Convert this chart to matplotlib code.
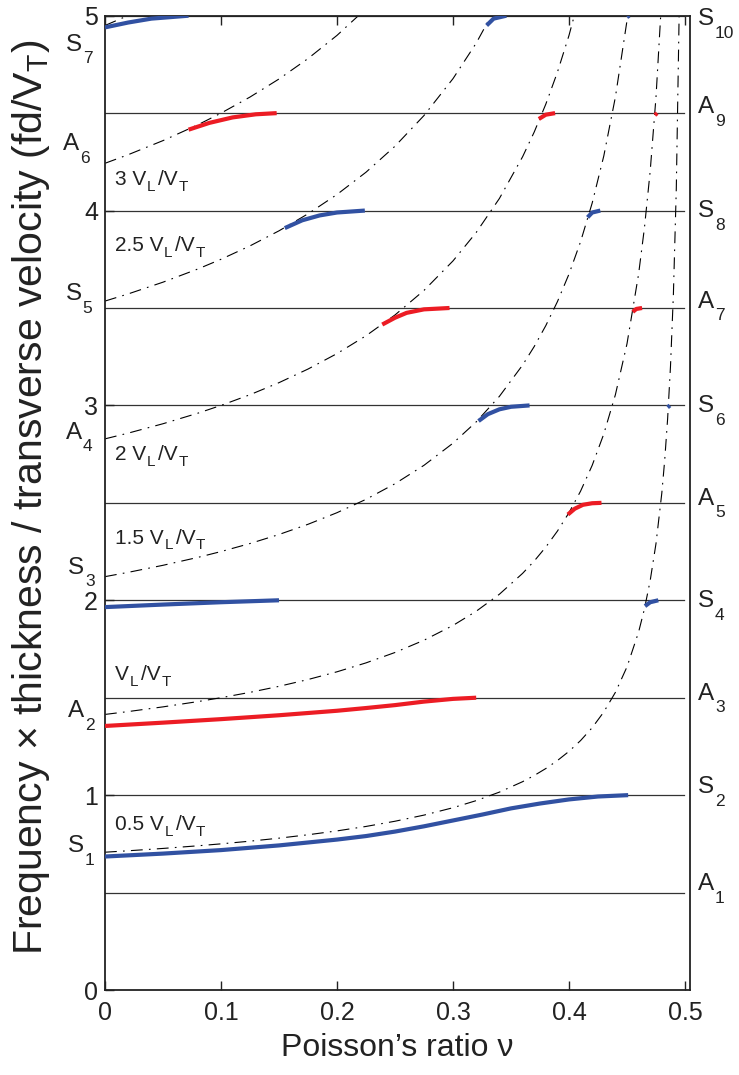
import matplotlib
matplotlib.use("Agg")
import matplotlib.pyplot as plt

plt.rcParams['font.family'] = ['Liberation Sans', 'DejaVu Sans']
plt.rcParams['mathtext.fontset'] = 'custom'
plt.rcParams['mathtext.rm'] = 'Liberation Sans'
plt.rcParams['mathtext.it'] = 'Liberation Sans'
plt.rcParams['mathtext.default'] = 'regular'
plt.rcParams['lines.scale_dashes'] = False

# Poisson's ratio and the longitudinal / transverse velocity ratio VL/VT
NU = [0.0, 0.02, 0.05, 0.08, 0.10, 0.125, 0.15, 0.175, 0.20, 0.225, 0.25,
      0.275, 0.30, 0.32, 0.34, 0.36, 0.37, 0.38, 0.39, 0.40, 0.41, 0.42,
      0.43, 0.44, 0.45, 0.46, 0.465, 0.47, 0.475, 0.48, 0.4825, 0.485,
      0.4875, 0.49, 0.4925, 0.495]
VL_VT = [1.4142, 1.4289, 1.4530, 1.4800, 1.5000, 1.5275, 1.5584, 1.5933,
         1.6330, 1.6787, 1.7321, 1.7951, 1.8708, 1.9437, 2.0310, 2.1381,
         2.2014, 2.2730, 2.3549, 2.4495, 2.5604, 2.6926, 2.8536, 3.0551,
         3.3166, 3.6742, 3.9097, 4.2032, 4.5826, 5.0990, 5.4380, 5.8595,
         6.4031, 7.1414, 8.2260, 10.0499]

# multiples of VL/VT drawn as longitudinal cutoff guides
MULTIPLES = [0.5, 1, 1.5, 2, 2.5, 3, 3.5]
MULT_TEXT = ['0.5 V', 'V', '1.5 V', '2 V', '2.5 V', '3 V']
MULT_TEXT_Y = [0.82, 1.59, 2.29, 2.72, 3.79, 4.13]

# transverse cutoffs (fd/VT = n/2)
CUTOFFS = [0.5, 1.0, 1.5, 2.0, 2.5, 3.0, 3.5, 4.0, 4.5, 5.0]
RIGHT_LETTERS = ['A', 'S', 'A', 'S', 'A', 'S', 'A', 'S', 'A', 'S']
RIGHT_SUBS = ['1', '2', '3', '4', '5', '6', '7', '8', '9', '10']
RIGHT_LABEL_Y = [0.513, 1.01, 1.49, 1.965, 2.49, 2.965, 3.50, 3.965, 4.50, 4.95]
LEFT_LETTERS = ['S', 'A', 'S', 'A', 'S', 'A', 'S']
LEFT_SUBS = ['1', '2', '3', '4', '5', '6', '7']
LEFT_LABEL_Y = [0.708, 1.40, 2.135, 2.83, 3.54, 4.31, 4.82]
LEFT_LABEL_X = [-0.032, -0.032, -0.032, -0.034, -0.034, -0.036, -0.034]

# mode branches near the cutoffs (nu, fd/VT)
S1_NU = [0.0, 0.05, 0.10, 0.15, 0.20, 0.225, 0.25, 0.275, 0.30, 0.325, 0.35,
         0.375, 0.40, 0.425, 0.451]
S1_F = [0.685, 0.70, 0.718, 0.742, 0.772, 0.79, 0.813, 0.84, 0.87, 0.90,
        0.932, 0.957, 0.978, 0.993, 1.0]
A2_NU = [0.0, 0.05, 0.10, 0.15, 0.20, 0.225, 0.25, 0.275, 0.30, 0.32]
A2_F = [1.355, 1.372, 1.39, 1.41, 1.433, 1.447, 1.462, 1.48, 1.494, 1.5]
S3_NU = [0.0, 0.05, 0.10, 0.15]
S3_F = [1.965, 1.978, 1.99, 2.0]
S4_NU = [0.4655, 0.47, 0.477]
S4_F = [1.97, 1.99, 2.0]
A5_NU = [0.399, 0.405, 0.412, 0.42, 0.428]
A5_F = [2.44, 2.47, 2.49, 2.498, 2.5]
S6_NU = [0.322, 0.33, 0.34, 0.35, 0.366]
S6_F = [2.92, 2.955, 2.98, 2.993, 3.0]
S6B_NU = [0.485, 0.487]
S6B_F = [2.99, 3.0]
A7_NU = [0.239, 0.25, 0.26, 0.275, 0.297]
A7_F = [3.415, 3.45, 3.475, 3.493, 3.5]
A7B_NU = [0.455, 0.458, 0.463]
A7B_F = [3.48, 3.495, 3.5]
S8_NU = [0.155, 0.17, 0.185, 0.20, 0.224]
S8_F = [3.91, 3.95, 3.975, 3.99, 4.0]
S8B_NU = [0.416, 0.42, 0.427]
S8B_F = [3.965, 3.99, 4.0]
A9_NU = [0.072, 0.09, 0.11, 0.13, 0.148]
A9_F = [4.415, 4.45, 4.478, 4.494, 4.5]
A9B_NU = [0.374, 0.38, 0.388]
A9B_F = [4.47, 4.492, 4.5]
A9C_NU = [0.474, 0.476]
A9C_F = [4.49, 4.5]
S10_NU = [0.0, 0.02, 0.04, 0.072]
S10_F = [4.94, 4.965, 4.985, 5.0]
S10B_NU = [0.329, 0.335, 0.346]
S10B_F = [4.95, 4.985, 5.0]
S10C_NU = [0.450, 0.452]
S10C_F = [4.993, 5.0]

BLUE = '#3151a2'
RED = '#ec1c24'
INK = '#222222'

sym_modes = [(S1_NU, S1_F), (S3_NU, S3_F), (S4_NU, S4_F), (S6_NU, S6_F),
             (S6B_NU, S6B_F), (S8_NU, S8_F), (S8B_NU, S8B_F),
             (S10_NU, S10_F), (S10B_NU, S10B_F), (S10C_NU, S10C_F)]
anti_modes = [(A2_NU, A2_F), (A5_NU, A5_F), (A7_NU, A7_F), (A7B_NU, A7B_F),
              (A9_NU, A9_F), (A9B_NU, A9B_F), (A9C_NU, A9C_F)]

fig = plt.figure(figsize=(7.39, 10.75), dpi=100)
ax = fig.add_axes([105 / 739, 1 - 990 / 1075, 585 / 739, (990 - 15.7) / 1075])
renderer = fig.canvas.get_renderer()


def rich_text(x, y, pieces):
    """Write pieces (text, size, dy, gap) one after another from (x, y)."""
    dx = 0.0
    for s, size, dy, gap in pieces:
        dx += gap
        t = ax.annotate(s, xy=(x, y), xycoords='data', xytext=(dx, dy),
                        textcoords='offset points', fontsize=size,
                        va='baseline', ha='left', color=INK,
                        annotation_clip=False)
        dx += t.get_window_extent(renderer).width * 72 / fig.dpi


# horizontal cutoff lines
for c in CUTOFFS:
    ax.plot([0, 0.499], [c, c], color='#333333', lw=0.9, zorder=1)

# k * VL/VT guide curves
for k in MULTIPLES:
    ln, = ax.plot(NU, [k * r for r in VL_VT], color='black', lw=0.8, zorder=2)
    ln.set_dashes((8.5, 4.5, 1.2, 4.5))

for nu, f in sym_modes:
    ax.plot(nu, f, color=BLUE, lw=3, solid_capstyle='butt', zorder=3)
for nu, f in anti_modes:
    ax.plot(nu, f, color=RED, lw=3, solid_capstyle='butt', zorder=3)

for txt, y in zip(MULT_TEXT, MULT_TEXT_Y):
    rich_text(0.0086, y, [(txt, 15, 0, 0), ('L', 11, -4, 0.5),
                          ('/V', 15, 0, 2), ('T', 11, -4, 0.5)])

for let, sub, y in zip(RIGHT_LETTERS, RIGHT_SUBS, RIGHT_LABEL_Y):
    rich_text(0.511, y, [(let, 17.5, 0, 0), (sub, 12.5, -9, 0.8)])
for let, sub, x, y in zip(LEFT_LETTERS, LEFT_SUBS, LEFT_LABEL_X, LEFT_LABEL_Y):
    rich_text(x, y, [(let, 17.5, 0, 0), (sub, 12.5, -9, 0.8)])

ax.set_xlim(0, 585 / 1160)
ax.set_ylim(0, 5)
ax.set_xticks([0, 0.1, 0.2, 0.3, 0.4, 0.5])
ax.set_xticklabels(['0', '0.1', '0.2', '0.3', '0.4', '0.5'])
ax.set_yticks([0, 1, 2, 3, 4, 5])
ax.tick_params(direction='in', length=6.5, width=1, labelsize=18,
               top=True, right=False, colors=INK)
ax.tick_params(axis='x', pad=8)
ax.tick_params(axis='y', pad=5)
for sp in ax.spines.values():
    sp.set_linewidth(1.3)
    sp.set_color(INK)

ax.set_xlabel('Poisson\u2019s ratio \u03bd', fontsize=23, labelpad=6, color=INK)
fig.text(31 / 739, 1 - 497 / 1075,
         'Frequency \u00d7 thickness / transverse velocity (fd/V$_T$)',
         rotation=90, ha='center', va='center', fontsize=29.5, color=INK)

fig.savefig('out.png', dpi=100)
